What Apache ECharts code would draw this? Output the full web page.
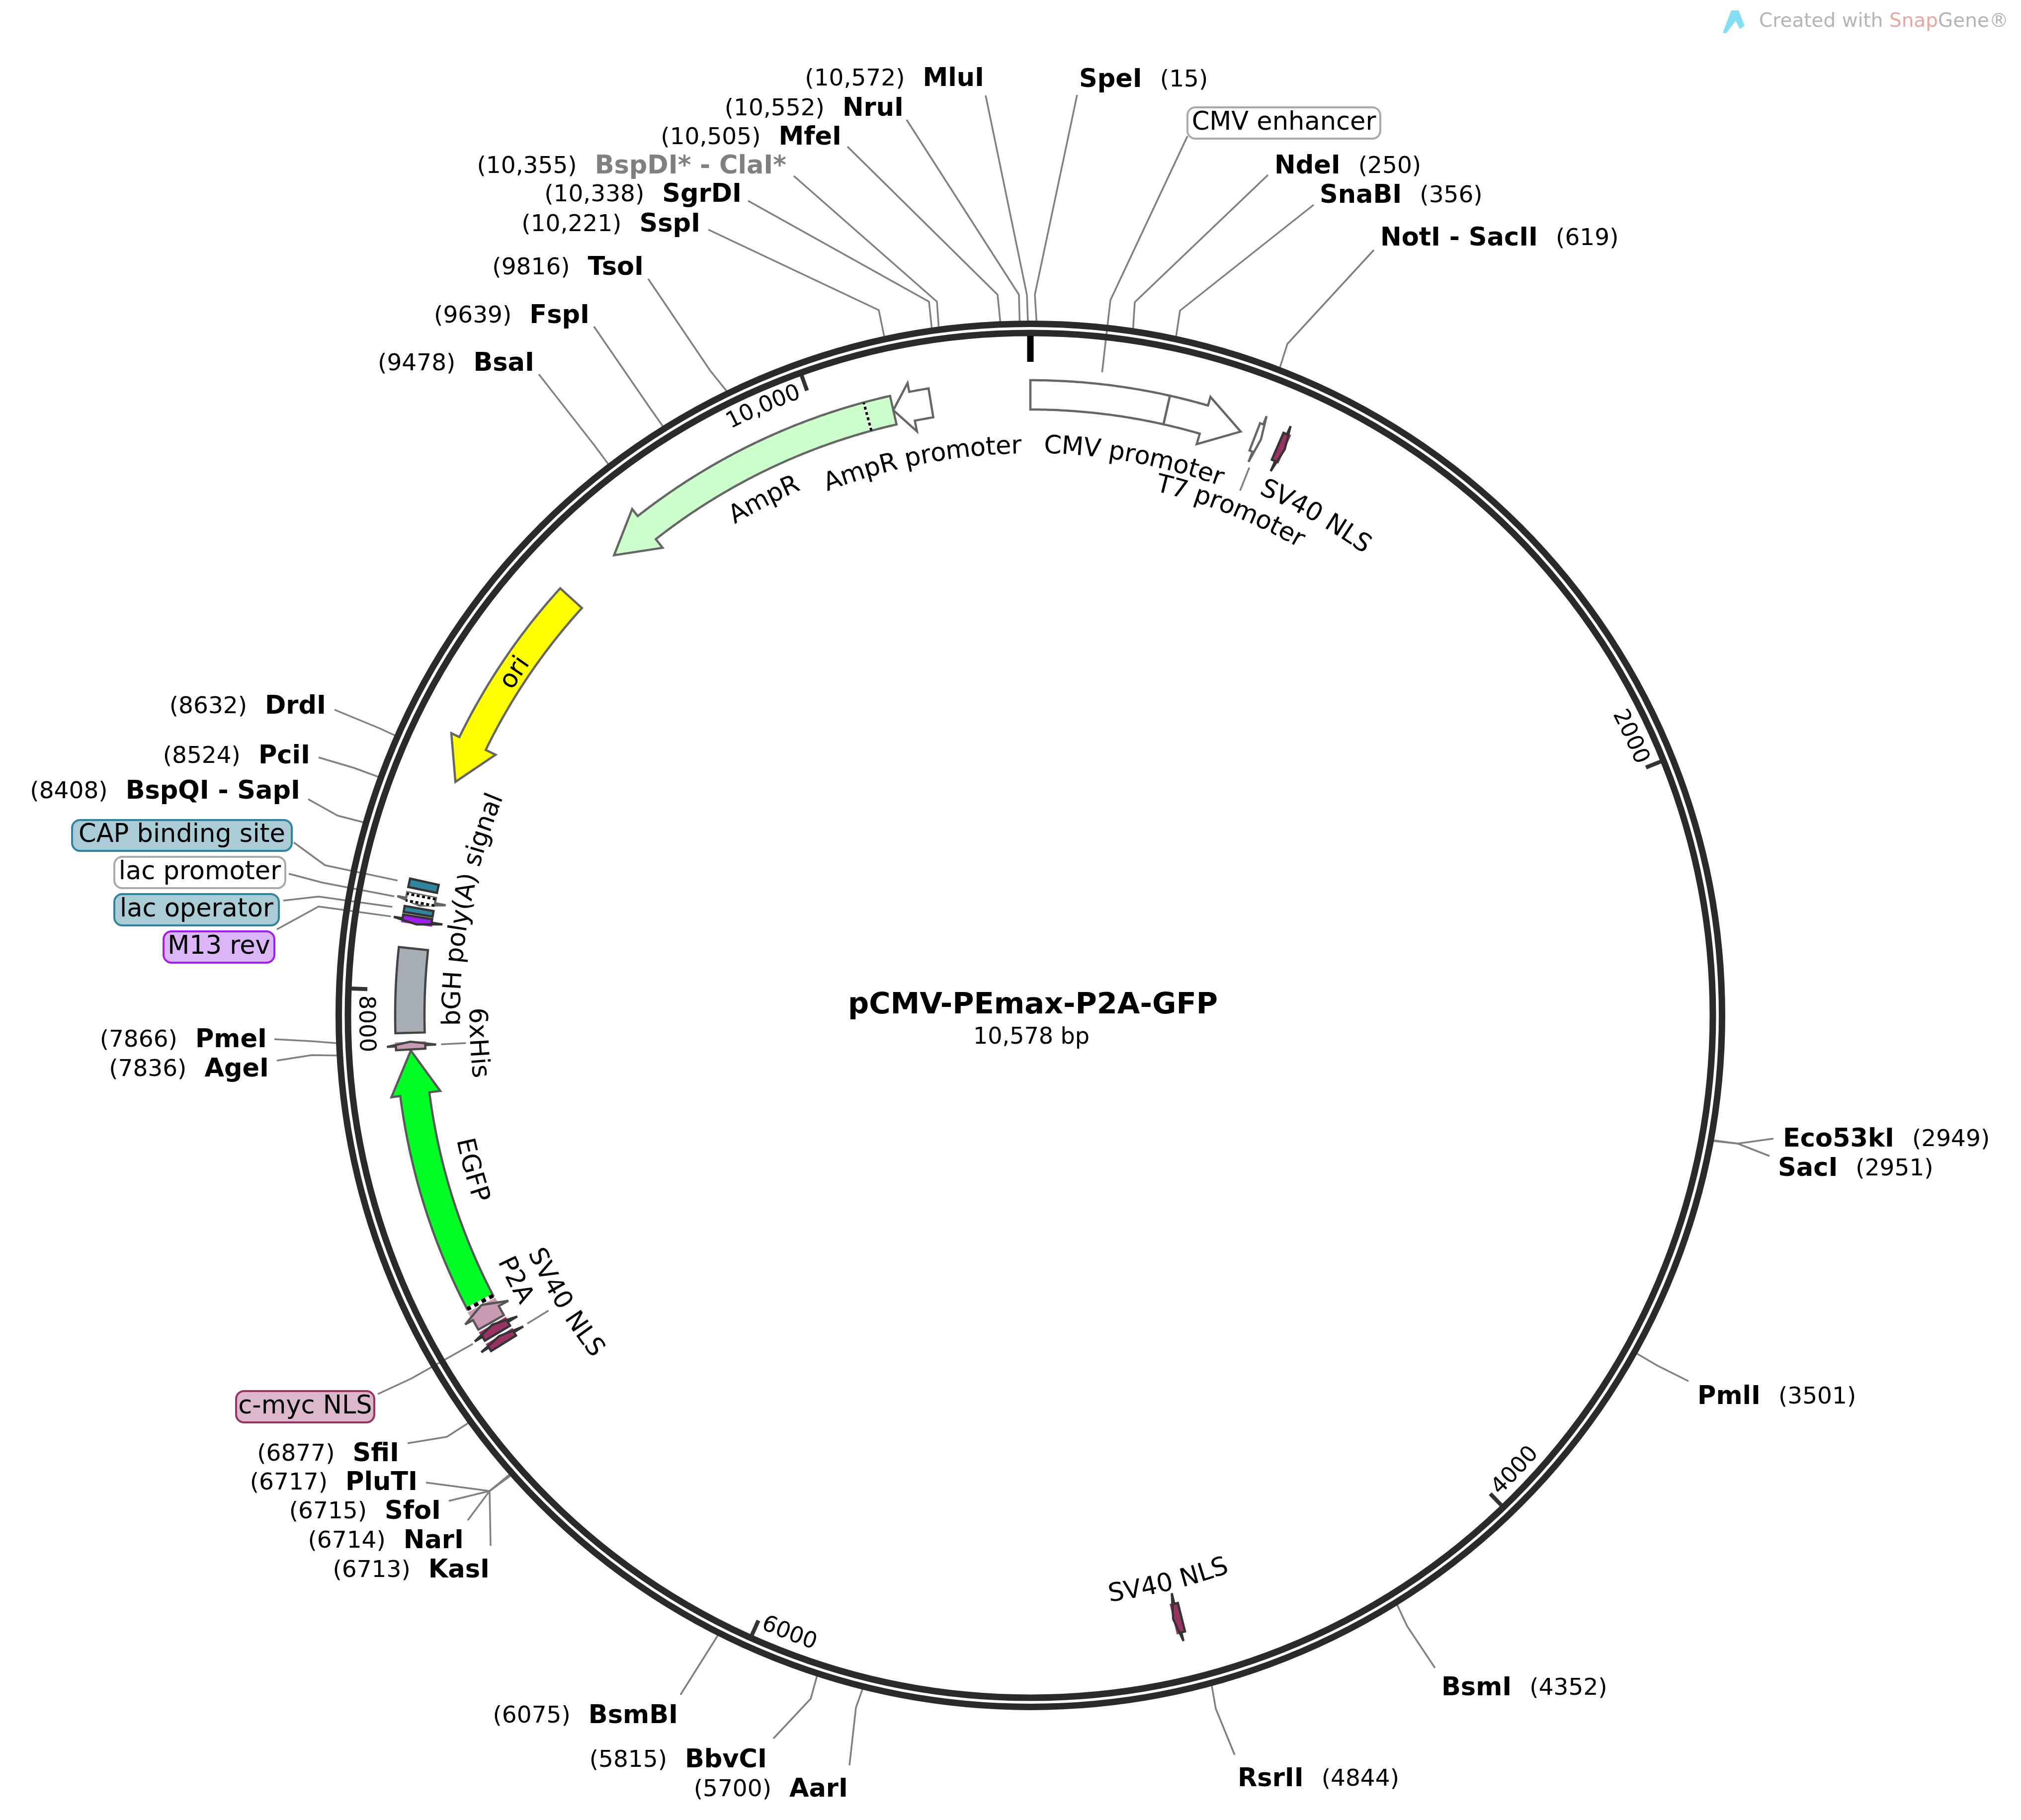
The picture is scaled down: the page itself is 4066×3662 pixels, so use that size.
<!DOCTYPE html>
<html lang="en">
<head>
<meta charset="UTF-8">
<title>pCMV-PEmax-P2A-GFP</title>
<script src="https://cdn.jsdelivr.net/npm/echarts@6/dist/echarts.min.js"></script>
<style>html,body{margin:0;padding:0;background:#fff}</style>
</head>
<body>
<div id="main" style="width:4066px;height:3662px"></div>
<script>
// plasmid
var plasmidName = 'pCMV-PEmax-P2A-GFP';
var plasmidSize = '10,578 bp';
var plasmidLength = 10578;

// backbone ticks
var tickBp = [0, 2000, 4000, 6000, 8000, 10000];
var tickLabels = ['', '2000', '4000', '6000', '8000', '10,000'];

// restriction sites, clockwise from the origin
var siteNames = ['SpeI', 'NdeI', 'SnaBI', 'NotI - SacII', 'Eco53kI', 'SacI', 'PmlI', 'BsmI', 'RsrII', 'AarI', 'BbvCI',
    'BsmBI', 'KasI', 'NarI', 'SfoI', 'PluTI', 'SfiI', 'AgeI', 'PmeI', 'BspQI - SapI', 'PciI', 'DrdI', 'BsaI', 'FspI',
    'TsoI', 'SspI', 'SgrDI', 'BspDI* - ClaI*', 'MfeI', 'NruI', 'MluI'];
var siteBp = [15, 250, 356, 619, 2949, 2951, 3501, 4352, 4844, 5700, 5815,
    6075, 6713, 6714, 6715, 6717, 6877, 7836, 7866, 8408, 8524, 8632, 9478, 9639,
    9816, 10221, 10338, 10355, 10505, 10552, 10572];

// features: tail and tip in bp, head = where the arrow head starts (null = plain block)
var featureNames = ['CMV enhancer', 'CMV promoter', 'T7 promoter', 'SV40 NLS', 'SV40 NLS', 'SV40 NLS', 'c-myc NLS', 'P2A',
    'EGFP', '6xHis', 'bGH poly(A) signal', 'M13 rev', 'lac operator', 'lac promoter', 'CAP binding site', 'ori', 'AmpR', 'AmpR promoter'];
var featureTail = [0, 373, 623, 690, 4875, 6996, 7028, 7062, 7124, 7841, 7886, 8202, 8209, 8262, 8276, 9175, 10203, 10307];
var featureHead = [null, 477, 632, 700, 4885, 7007, 7040, 7091, 7719, 7851, null, 8192, null, 8247, null, 8697, 9456, 10255];
var featureTip = [373, 582, 641, 711, 4898, 7019, 7055, 7116, 7838, 7862, 8115, 8181, 8225, 8233, 8299, 8583, 9340, 10203];

// inner boundaries shown as dashes in a feature
var dashBp = [10131, 7124, 8258, 8240];

// ---- layout and style, none of it data ----
var CX = 2073, CY = 2043;
var FONT = '"DejaVu Sans"';
var R_SITE = 1396, R_OUT = 1278, R_IN = 1219, R_MID = 1248.5, R_WING_OUT = 1296, R_WING_IN = 1197;

// side, text x, text y, line start x, y, elbow x, y
var siteLayout = [
    ['R', 2171, 162, 2167, 191, 2082, 593], ['R', 2564, 336, 2551, 352, 2283, 608], ['R', 2655, 395, 2643, 412, 2374, 625],
    ['R', 2777, 481, 2764, 503, 2590, 692], ['R', 3587, 2294, 3568, 2291, 3496, 2301], ['R', 3577, 2353, 3560, 2326, 3496, 2301],
    ['R', 3415, 2812, 3397, 2779, 3335, 2748], ['R', 2900, 3398, 2887, 3356, 2831, 3272], ['R', 2490, 3581, 2484, 3531, 2446, 3438],
    ['L', 1706, 3602, 1709, 3552, 1722, 3436], ['L', 1543, 3543, 1556, 3498, 1631, 3418], ['L', 1364, 3454, 1369, 3410, 1437, 3302],
    ['L', 985, 3161, 987, 3110, 985, 3000], ['L', 933, 3102, 941, 3059, 985, 3000], ['L', 887, 3043, 903, 3020, 985, 3000],
    ['L', 840, 2985, 857, 2983, 985, 3000], ['L', 803, 2927, 820, 2904, 899, 2891], ['L', 541, 2153, 557, 2134, 627, 2123],
    ['L', 537, 2094, 552, 2091, 627, 2095], ['L', 604, 1594, 620, 1608, 679, 1641], ['L', 624, 1523, 641, 1524, 712, 1545],
    ['L', 656, 1423, 673, 1428, 765, 1466], ['L', 1075, 733, 1084, 753, 1195, 895], ['L', 1186, 637, 1195, 657, 1307, 820],
    ['L', 1295, 540, 1304, 561, 1429, 746], ['L', 1409, 453, 1425, 462, 1768, 624], ['L', 1492, 393, 1505, 404, 1869, 607],
    ['L', 1582, 336, 1597, 354, 1885, 607], ['L', 1693, 278, 1705, 295, 2007, 593], ['L', 1818, 220, 1824, 241, 2050, 593],
    ['L', 1980, 160, 1983, 192, 2066, 593]
];

// boxed labels: feature index, box x0, y0, x1, y1, line start, elbow, bp the line ends at
var boxLayout = [
    [0, 2389, 216, 2777, 279, 2389, 274, 2234, 604, 187, '#ffffff', '#aaaaaa'],
    [14, 145, 1650, 587, 1712, 591, 1695, 654, 1741, 8287, '#a9ccd6', '#31849b'],
    [13, 230, 1724, 574, 1787, 581, 1758, 649, 1776, 8245, '#ffffff', '#aaaaaa'],
    [12, 230, 1799, 561, 1862, 570, 1812, 641, 1804, 8217, '#a9ccd6', '#31849b'],
    [11, 329, 1874, 552, 1937, 557, 1870, 641, 1824, 8192, '#dcb4f8', '#a020f0'],
    [6, 475, 2799, 753, 2862, 760, 2805, 827, 2774, 7037, '#dcb8cc', '#993366']
];

// labels that follow the circle: feature index, centre bp, radius, reads against the clock?
var arcLayout = [
    [1, 310, 1145, false], [2, 635, 1098, false], [3, 874, 1159, false], [4, 4887, 1177, true], [5, 7002, 1105, true],
    [7, 7134, 1167, true], [8, 7478, 1168, true], [9, 7850, 1115, true], [10, 8248, 1161, false], [15, 8921, 1244, false],
    [16, 9776, 1167, false], [17, 10254, 1144, false]
];
var tickLabelLayout = [null, [1913, 1331, false], [3914, 1339, true], [5915, 1336, true], [7912, 1338, true], [9882, 1337, false]];

// short radial stubs from a small feature to its label: bp
var stubBp = [640, 7008, 7851];

var featureStyle = {
    'CMV enhancer': ['#ffffff', '#666666'], 'CMV promoter': ['#ffffff', '#666666'], 'T7 promoter': ['#ffffff', '#666666'],
    'SV40 NLS': ['#993366', '#333333'], 'c-myc NLS': ['#993366', '#333333'], 'P2A': ['#c99ab3', '#555555'],
    'EGFP': ['#00ff26', '#5a5a5a'], '6xHis': ['#c99ab3', '#444444'], 'bGH poly(A) signal': ['#a6adb5', '#444444'],
    'M13 rev': ['#a020f0', '#333333'], 'lac operator': ['#31849b', '#333333'], 'lac promoter': ['#ffffff', '#666666'],
    'CAP binding site': ['#31849b', '#333333'], 'ori': ['#ffff00', '#666666'], 'AmpR': ['#ccffcc', '#666666'],
    'AmpR promoter': ['#ffffff', '#666666']
};

var measureCtx = document.createElement('canvas').getContext('2d');
function textWidth(t, size, bold) {
    measureCtx.font = (bold ? 'bold ' : '') + size + 'px ' + FONT;
    return measureCtx.measureText(t).width;
}

function arcPoints(from, to, r) {
    var n = Math.max(1, Math.ceil(Math.abs(to - from) / 8)), out = [];
    for (var i = 0; i <= n; i++) out.push([r, from + (to - from) * i / n]);
    return out;
}

function featurePoints(i) {
    var tail = featureTail[i], head = featureHead[i], tip = featureTip[i];
    if (head === null) return arcPoints(tail, tip, R_OUT).concat(arcPoints(tip, tail, R_IN));
    return arcPoints(tail, head, R_OUT)
        .concat([[R_WING_OUT, head], [R_MID, tip], [R_WING_IN, head]])
        .concat(arcPoints(head, tail, R_IN));
}

function toPixels(api, pts) {
    return pts.map(function (p) { return api.coord(p); });
}

function line(points, color, width, dash) {
    return {
        type: 'polyline',
        shape: { points: points },
        style: { stroke: color, lineWidth: width, fill: null, lineDash: dash || null, lineCap: 'butt', lineJoin: 'round' }
    };
}

function arcText(api, text, bp, r, size, inward) {
    var total = textWidth(text, size, false), used = 0, dir = inward ? -1 : 1, out = [];
    for (var i = 0; i < text.length; i++) {
        var w = textWidth(text.substring(0, i + 1), size, false) - used;
        var off = -total / 2 + used + w / 2;
        used += w;
        var b = bp + dir * off / r * plasmidLength / (2 * Math.PI);
        var p = api.coord([r, b]);
        var theta = b / plasmidLength * 2 * Math.PI;
        out.push({
            type: 'text', x: p[0], y: p[1], rotation: inward ? -(theta + Math.PI) : -theta,
            style: { text: text[i], fontFamily: FONT, fontSize: size, fill: '#000', align: 'center', verticalAlign: 'middle' }
        });
    }
    return out;
}

function sitePosLabel(bp) {
    var s = String(bp);
    if (bp >= 10000) s = s.slice(0, -3) + ',' + s.slice(-3);
    return '(' + s + ')';
}

var BOLD = 51, PLAIN = 47, GAP = 36, LABEL = 51;

function leadersItem(params, api) {
    var kids = [];
    siteBp.forEach(function (bp, i) {
        var l = siteLayout[i];
        kids.push(line([[l[3], l[4]], [l[5], l[6]], api.coord([R_SITE, bp])], '#808080', 3.5));
    });
    boxLayout.forEach(function (b) {
        kids.push(line([[b[5], b[6]], [b[7], b[8]], api.coord([1302, b[9]])], '#808080', 3.5));
    });
    stubBp.forEach(function (bp) {
        kids.push(line([api.coord([1187, bp]), api.coord([1137, bp])], '#808080', 3.5));
    });
    return { type: 'group', children: kids };
}

function ringItem(params, api) {
    var c = api.coord([0, 0]);
    return {
        type: 'group',
        children: [1391.5, 1373].map(function (r) {
            return { type: 'circle', shape: { cx: c[0], cy: c[1], r: r }, style: { fill: null, stroke: '#2a2a2a', lineWidth: 13 } };
        })
    };
}

function featureItem(params, api) {
    var i = api.value(2), st = featureStyle[featureNames[i]], kids = [];
    var tail = featureTail[i], tip = featureTip[i];
    // tiny arrows show their colour as a full block under the arrow outline
    if (featureHead[i] !== null && Math.abs(tip - tail) < 60 && st[0] !== '#ffffff') {
        kids.push({
            type: 'polygon',
            shape: { points: toPixels(api, arcPoints(tail, tip, R_OUT + 2).concat(arcPoints(tip, tail, R_IN - 2))) },
            style: { fill: st[0] }
        });
    }
    kids.push({
        type: 'polygon',
        shape: { points: toPixels(api, featurePoints(i)) },
        style: { fill: st[0], stroke: st[1], lineWidth: 4.5, lineJoin: 'miter', miterLimit: 4 }
    });
    return { type: 'group', children: kids };
}

function dashItem(params, api) {
    var bp = api.value(1), thick = bp === 7124 ? 8 : 5;
    var pts = [api.coord([R_IN, bp]), api.coord([R_OUT, bp])];
    return {
        type: 'group',
        children: [line(pts, '#ffffff', thick), line(pts, '#000000', thick, [thick + 1, thick])]
    };
}

function tickItem(params, api) {
    var bp = api.value(1), zero = bp === 0;
    return line([api.coord([1367, bp]), api.coord([zero ? 1315 : 1335, bp])], zero ? '#000000' : '#333333', zero ? 13 : 8);
}

function textItem(params, api) {
    var kids = [];
    siteNames.forEach(function (name, i) {
        var l = siteLayout[i], pos = sitePosLabel(siteBp[i]), w = textWidth(name, BOLD, true);
        var nameX = l[0] === 'R' ? l[1] : l[1] - w;
        var posX = l[0] === 'R' ? l[1] + w + GAP : l[1] - w - GAP;
        kids.push({
            type: 'text', x: nameX, y: l[2],
            style: { text: name, fontFamily: FONT, fontSize: BOLD, fontWeight: 'bold', fill: name.indexOf('*') >= 0 ? '#808080' : '#000', align: 'left', verticalAlign: 'middle' }
        });
        kids.push({
            type: 'text', x: posX, y: l[2],
            style: { text: pos, fontFamily: FONT, fontSize: PLAIN, fill: '#000', align: l[0] === 'R' ? 'left' : 'right', verticalAlign: 'middle' }
        });
    });
    boxLayout.forEach(function (b) {
        kids.push({
            type: 'rect', shape: { x: b[1], y: b[2], width: b[3] - b[1], height: b[4] - b[2], r: 16 },
            style: { fill: b[10], stroke: b[11], lineWidth: 4 }
        });
        kids.push({
            type: 'text', x: (b[1] + b[3]) / 2, y: (b[2] + b[4]) / 2,
            style: { text: featureNames[b[0]], fontFamily: FONT, fontSize: LABEL, fill: '#000', align: 'center', verticalAlign: 'middle' }
        });
    });
    arcLayout.forEach(function (a) {
        kids = kids.concat(arcText(api, featureNames[a[0]], a[1], a[2], LABEL, a[3]));
    });
    tickLabelLayout.forEach(function (t, i) {
        if (t) kids = kids.concat(arcText(api, tickLabels[i], t[0], t[1], 45, t[2]));
    });
    return { type: 'group', children: kids };
}

function customSeries(data, renderItem, z) {
    return { type: 'custom', coordinateSystem: 'polar', data: data, renderItem: renderItem, z: z, silent: true, clip: false, animation: false };
}

var chart = echarts.init(document.getElementById('main'), null, { renderer: 'canvas' });
chart.setOption({
    animation: false,
    backgroundColor: '#ffffff',
    title: [
        {
            text: plasmidName, left: CX, top: 1989, textAlign: 'center',
            textStyle: { fontFamily: FONT, fontSize: 59, fontWeight: 'bold', color: '#000' }
        },
        {
            text: plasmidSize, left: CX - 3, top: 2060, textAlign: 'center',
            textStyle: { fontFamily: FONT, fontSize: 46, fontWeight: 'normal', color: '#000' }
        }
    ],
    polar: { center: [CX, CY], radius: 1500 },
    radiusAxis: { type: 'value', min: 0, max: 1500, show: false },
    angleAxis: { type: 'value', min: 0, max: plasmidLength, startAngle: 90, clockwise: true, show: false },
    graphic: {
        elements: [
            {
                type: 'polygon', shape: { points: [[3483, 21], [3498, 21], [3510, 52], [3500, 58], [3492, 42], [3473, 67], [3466, 66]] },
                style: { fill: '#86def2' }
            },
            {
                type: 'text', x: 3539, y: 44,
                style: {
                    text: '{a|Created with }{b|Snap}{a|Gene®}',
                    verticalAlign: 'middle',
                    rich: {
                        a: { fontFamily: FONT, fontSize: 39, fill: '#b4b4b4', color: '#b4b4b4' },
                        b: { fontFamily: FONT, fontSize: 39, fill: '#e8a8a2', color: '#e8a8a2' }
                    }
                }
            }
        ]
    },
    series: [
        customSeries([[R_SITE, 0]], leadersItem, 1),
        customSeries([[R_SITE, 0]], ringItem, 2),
        customSeries(featureNames.map(function (n, i) { return [R_MID, featureTail[i], i]; }), featureItem, 3),
        customSeries(dashBp.map(function (b) { return [R_MID, b]; }), dashItem, 4),
        customSeries(tickBp.map(function (b) { return [1350, b]; }), tickItem, 5),
        customSeries([[R_SITE, 0]], textItem, 6)
    ]
});
</script>
</body>
</html>
